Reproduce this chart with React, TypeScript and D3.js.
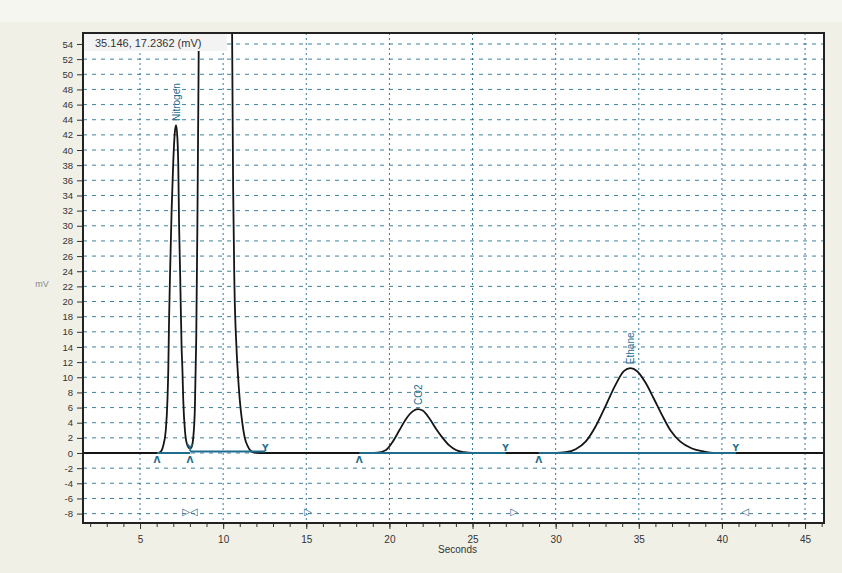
import React, { useEffect, useRef } from "react";
import * as d3 from "d3";

// detector trace (minutes vs mV)
const times = [
  1.57, 6.0, 6.2, 6.4, 6.55, 6.65, 6.7, 6.75, 6.81, 6.9, 7.0, 7.1, 7.17, 7.25, 7.3, 7.35, 7.41, 7.5, 7.55,
  7.6, 7.7, 7.85, 8.0, 8.1, 8.2, 8.3, 8.38, 8.45, 8.52, 8.6, 9.0, 9.6, 10.2, 10.45, 10.54, 10.6, 10.68,
  10.8, 10.9, 11.0, 11.15, 11.3, 11.5, 11.8, 12.2, 18.8, 19.3, 19.8, 20.2, 20.6, 21.0, 21.4, 21.7, 22.0,
  22.4, 22.8, 23.2, 23.6, 24.0, 24.5, 25.0, 30.0, 30.6, 31.2, 31.8, 32.4, 33.0, 33.6, 34.1, 34.5, 34.9,
  35.4, 35.9, 36.4, 36.9, 37.5, 38.2, 38.9, 39.5, 46.14,
];
const signal = [
  0, 0, 0.1, 1.0, 3, 7, 11, 18, 24, 32, 38.5, 42.5, 43.3, 41.5, 38, 30, 24, 14, 11,
  7, 3, 1, 0.6, 0.8, 2, 6, 15, 30, 50, 80, 200, 260, 200, 80, 55, 35, 22,
  14, 10, 7, 4, 2, 0.8, 0.1, 0, 0, 0.05, 0.4, 1.5, 3.0, 4.5, 5.5, 5.8, 5.6,
  4.6, 3.2, 2.0, 1.0, 0.4, 0.1, 0, 0, 0.1, 0.5, 1.5, 3.5, 6.2, 9.0, 10.8, 11.2, 10.8,
  9.3, 7.2, 5.0, 3.0, 1.5, 0.6, 0.2, 0, 0,
];

const peakNames = ["Nitrogen", "CO2", "Ethane"];
const peakTimes = [7.17, 21.7, 34.5];
const peakHeights = [43.3, 5.8, 11.2];

// integration baselines
const baseStart = [6.02, 8.01, 18.19, 28.98];
const baseEnd = [8.01, 12.53, 26.99, 40.84];

// timed events along the bottom
const eventTimes = [8.0, 15.1, 27.5, 41.4];
const eventGlyphs = ["▷◁", "▷", "▷", "◁"];

const xTicks = [5, 10, 15, 20, 25, 30, 35, 40, 45];
const yTicks = d3.range(-8, 55, 2);

const headerText = "35.146,  17.2362 (mV)";

const teal = "#1f6d8e";

const App = () => {
  const xAxisRef = useRef(null);
  const yAxisRef = useRef(null);
  const width = 842;
  const height = 573;
  const plot = { left: 83, right: 824, top: 33, bottom: 523 };

  const x = d3.scaleLinear().domain([1.57, 46.14]).range([plot.left, plot.right]);
  const y = d3.scaleLinear().domain([-9.24, 55.45]).range([plot.bottom, plot.top]);

  useEffect(() => {
    const gx = d3.select(xAxisRef.current);
    gx.selectAll("*").remove();
    // minor ticks every second
    gx.call(d3.axisBottom(x).tickValues(d3.range(2, 47, 1)).tickSize(3).tickFormat(() => ""));
    gx.append("g").call(d3.axisBottom(x).tickValues(xTicks).tickSize(5).tickPadding(7));
    gx.selectAll(".domain").remove();
    gx.selectAll("text")
      .attr("font-size", 10)
      .attr("font-family", "Liberation Sans, Arial, sans-serif")
      .attr("fill", "#333");
    gx.selectAll("line").attr("stroke", "#333");

    const gy = d3.select(yAxisRef.current);
    gy.selectAll("*").remove();
    gy.call(
      d3.axisLeft(y).tickValues(yTicks).tickSize(5).tickPadding(4).tickFormat((d) => String(d))
    );
    gy.selectAll(".domain").remove();
    gy.selectAll("text")
      .attr("font-size", 9.5)
      .attr("font-family", "Liberation Sans, Arial, sans-serif")
      .attr("fill", "#333");
    gy.selectAll("line").attr("stroke", "#333");
  }, []);

  const line = d3
    .line<number>()
    .x((_, i) => x(times[i]))
    .y((d) => y(d))
    .curve(d3.curveMonotoneX);

  return (
    <svg
      width={width}
      height={height}
      style={{ position: "absolute", left: 0, top: 0 }}
    >
      <rect x={0} y={0} width={width} height={height} fill="#f0f0e7" />
      <rect x={0} y={0} width={width} height={22} fill="#f6f6f0" />
      <rect
        x={plot.left}
        y={plot.top}
        width={plot.right - plot.left}
        height={plot.bottom - plot.top}
        fill="#ffffff"
      />
      <defs>
        <clipPath id="plotClip">
          <rect
            x={plot.left}
            y={plot.top}
            width={plot.right - plot.left}
            height={plot.bottom - plot.top}
          />
        </clipPath>
      </defs>

      {/* grid */}
      <g>
        {yTicks.map((t) => (
          <line
            key={"h" + t}
            x1={plot.left}
            x2={plot.right}
            y1={y(t)}
            y2={y(t)}
            stroke={teal}
            strokeWidth={1}
            strokeDasharray="4,5"
            opacity={0.85}
          />
        ))}
        {xTicks.map((t) => (
          <line
            key={"v" + t}
            x1={x(t)}
            x2={x(t)}
            y1={plot.top}
            y2={plot.bottom}
            stroke={teal}
            strokeWidth={1}
            strokeDasharray="2,3"
            opacity={0.9}
          />
        ))}
      </g>

      {/* trace */}
      <g clipPath="url(#plotClip)">
        <path d={line(signal) || ""} fill="none" stroke="#151515" strokeWidth={1.8} />
        {baseStart.map((s, i) => (
          <line
            key={"b" + i}
            x1={x(s)}
            x2={x(baseEnd[i])}
            y1={y(i === 1 ? 0.2 : 0)}
            y2={y(i === 1 ? 0.2 : 0)}
            stroke={teal}
            strokeWidth={2}
          />
        ))}
      </g>

      {/* baseline event markers */}
      {baseStart.map((s, i) => (
        <text
          key={"s" + i}
          x={x(s)}
          y={y(0) + 10}
          textAnchor="middle"
          fontSize={9}
          fontWeight="bold"
          fontFamily="DejaVu Sans, sans-serif"
          fill={teal}
        >
          Λ
        </text>
      ))}
      {baseEnd.map((s, i) => (
        <text
          key={"e" + i}
          x={x(s)}
          y={y(0) - 2}
          textAnchor="middle"
          fontSize={9}
          fontWeight="bold"
          fontFamily="DejaVu Sans, sans-serif"
          fill={teal}
        >
          Y
        </text>
      ))}
      {eventTimes.map((t, i) => (
        <text
          key={"ev" + i}
          x={x(t)}
          y={y(-8.2)}
          textAnchor="middle"
          fontSize={10}
          fontWeight="bold"
          fontFamily="DejaVu Sans, sans-serif"
          fill={teal}
        >
          {eventGlyphs[i]}
        </text>
      ))}

      {/* peak names */}
      {peakNames.map((name, i) => (
        <text
          key={name}
          transform={`translate(${x(peakTimes[i]) + 4},${y(peakHeights[i]) - 4}) rotate(-90)`}
          fontSize={10}
          fontFamily="Liberation Sans, Arial, sans-serif"
          fill={teal}
        >
          {name}
        </text>
      ))}

      {/* cursor readout */}
      <rect x={plot.left + 1} y={plot.top + 1} width={143} height={17} fill="#f3f3f3" />
      <text
        x={plot.left + 12}
        y={plot.top + 14}
        fontSize={11}
        fontFamily="Liberation Sans, Arial, sans-serif"
        fill="#333"
      >
        {headerText}
      </text>

      {/* frame */}
      <rect
        x={plot.left}
        y={plot.top}
        width={plot.right - plot.left}
        height={plot.bottom - plot.top}
        fill="none"
        stroke="#222"
        strokeWidth={2}
      />

      <g ref={xAxisRef} transform={`translate(0,${plot.bottom + 1})`} />
      <g ref={yAxisRef} transform={`translate(${plot.left - 1},0)`} />

      <text
        x={(x(20) + x(30)) / 2 - 15}
        y={553}
        textAnchor="middle"
        fontSize={10}
        fontFamily="Liberation Sans, Arial, sans-serif"
        fill="#333"
      >
        Seconds
      </text>
      <text
        x={42}
        y={287}
        textAnchor="middle"
        fontSize={9}
        fontFamily="Liberation Sans, Arial, sans-serif"
        fill="#888"
      >
        mV
      </text>
    </svg>
  );
};

export default App;
